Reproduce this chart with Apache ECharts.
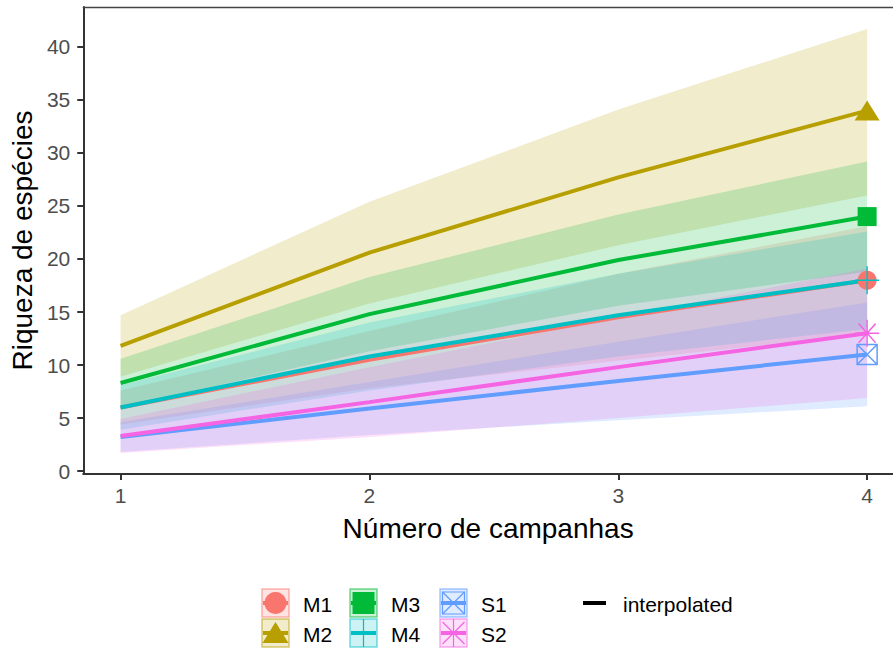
<!DOCTYPE html>
<html>
<head>
<meta charset="utf-8">
<script src="https://cdn.jsdelivr.net/npm/echarts@6/dist/echarts.min.js"></script>
<style>html,body{margin:0;padding:0;background:#fff;}#chart{width:893px;height:648px;}</style>
</head>
<body>
<div id="chart"></div>
<script>
// ---- data ----
const campaigns = [1, 2, 3, 4];
const xTicks = [1, 2, 3, 4];
const yTicks = [0, 5, 10, 15, 20, 25, 30, 35, 40];
const sampleNames = ['M1', 'M2', 'M3', 'M4', 'S1', 'S2'];
const sampleColors = ['#F8766D', '#B79F00', '#00BA38', '#00BFC4', '#619CFF', '#F564E3'];

const M1_obs = [6.0, 10.5, 14.5, 18.0];
const M1_lo  = [4.4, 7.8, 10.4, 12.9];
const M1_hi  = [7.6, 13.2, 18.6, 23.1];

const M2_obs = [11.8, 20.6, 27.7, 34.0];
const M2_lo  = [8.9, 15.8, 21.3, 26.0];
const M2_hi  = [14.7, 25.4, 34.1, 41.7];

const M3_obs = [8.3, 14.8, 19.9, 24.0];
const M3_lo  = [6.0, 11.3, 15.6, 18.8];
const M3_hi  = [10.6, 18.3, 24.2, 29.2];

const M4_obs = [6.0, 10.8, 14.7, 18.0];
const M4_lo  = [3.9, 7.6, 10.8, 13.4];
const M4_hi  = [8.1, 14.0, 18.6, 22.6];

const S1_obs = [3.2, 5.9, 8.5, 11.0];
const S1_lo  = [1.8, 3.4, 4.8, 6.1];
const S1_hi  = [4.6, 8.4, 12.2, 15.9];

const S2_obs = [3.3, 6.5, 9.8, 13.0];
const S2_lo  = [1.7, 3.2, 5.0, 6.9];
const S2_hi  = [4.9, 9.8, 14.5, 19.1];

const obsList = [M1_obs, M2_obs, M3_obs, M4_obs, S1_obs, S2_obs];
const loList = [M1_lo, M2_lo, M3_lo, M4_lo, S1_lo, S2_lo];
const hiList = [M1_hi, M2_hi, M3_hi, M4_hi, S1_hi, S2_hi];

// ---- helpers ----
function rgba(hex, a) {
  const r = parseInt(hex.slice(1, 3), 16), g = parseInt(hex.slice(3, 5), 16), b = parseInt(hex.slice(5, 7), 16);
  return 'rgba(' + r + ',' + g + ',' + b + ',' + a + ')';
}
const FONT = 'Liberation Sans, Arial, Helvetica, sans-serif';

const markerDefs = [
  { symbol: 'circle', size: 19, fill: true },
  { symbol: 'triangle', size: [25, 20], fill: true },
  { symbol: 'rect', size: 19, fill: true },
  { symbol: 'path://M10,0L10,20M0,10L20,10', size: [24, 28], fill: false },
  { symbol: 'path://M0,0L20,0L20,20L0,20ZM0,0L20,20M20,0L0,20', size: 20, fill: false },
  { symbol: 'path://M10,0L10,20M0,10L20,10M2.9,2.9L17.1,17.1M17.1,2.9L2.9,17.1', size: [24, 27], fill: false }
];

const series = [];
// confidence bands (one polygon per sample, through the axis scales)
sampleNames.forEach((nm, k) => {
  const lo = loList[k], hi = hiList[k];
  const fill = rgba(sampleColors[k], 0.2);
  series.push({
    type: 'custom', name: nm + ' band', silent: true, z: 1, clip: true,
    data: campaigns.map((x, i) => [x, lo[i], hi[i]]),
    encode: { x: 0, y: [1, 2] },
    renderItem: function (params, api) {
      if (params.dataIndex !== 0) return null;
      const pts = [];
      for (let i = 0; i < campaigns.length; i++) pts.push(api.coord([campaigns[i], hi[i]]));
      for (let i = campaigns.length - 1; i >= 0; i--) pts.push(api.coord([campaigns[i], lo[i]]));
      return { type: 'polygon', shape: { points: pts }, style: { fill: fill, stroke: null } };
    }
  });
});
// lines
sampleNames.forEach((nm, k) => {
  series.push({
    type: 'line', name: nm, silent: true,
    data: campaigns.map((x, i) => [x, obsList[k][i]]),
    symbol: 'none', lineStyle: { color: sampleColors[k], width: 4 }, z: 3
  });
});
// end markers
sampleNames.forEach((nm, k) => {
  const d = markerDefs[k];
  const last = campaigns.length - 1;
  series.push({
    type: 'scatter', name: nm + ' point', silent: true,
    data: [[campaigns[last], obsList[k][last]]],
    symbol: d.symbol, symbolSize: d.size,
    itemStyle: d.fill ? { color: sampleColors[k], opacity: 1 } :
      { color: 'rgba(0,0,0,0)', borderColor: sampleColors[k], borderWidth: 1.5, opacity: 1 },
    z: 4
  });
});

// ---- legend (graphic) ----
const graphic = [];
const colLeft = [262, 350, 440];
const rowTop = [589, 619];
const keyW = 27, keyH = 28;
sampleNames.forEach((nm, k) => {
  const col = Math.floor(k / 2), row = k % 2;
  const x0 = colLeft[col], y0 = rowTop[row];
  const cx = x0 + keyW / 2, cy = y0 + keyH / 2;
  const c = sampleColors[k];
  graphic.push({ type: 'rect', shape: { x: x0, y: y0, width: keyW, height: keyH },
    style: { fill: rgba(c, 0.2), stroke: rgba(c, 0.55), lineWidth: 1.5 } });
  graphic.push({ type: 'line', shape: { x1: x0 + 1, y1: cy, x2: x0 + keyW - 1, y2: cy },
    style: { stroke: c, lineWidth: 4 } });
  if (k === 0) {
    graphic.push({ type: 'circle', shape: { cx: cx, cy: cy, r: 11 }, style: { fill: c } });
  } else if (k === 1) {
    graphic.push({ type: 'polygon', shape: { points: [[cx, cy - 11], [cx + 13, cy + 10], [cx - 13, cy + 10]] }, style: { fill: c } });
  } else if (k === 2) {
    graphic.push({ type: 'rect', shape: { x: cx - 11, y: cy - 11, width: 22, height: 22 }, style: { fill: c } });
  } else if (k === 3) {
    graphic.push({ type: 'line', shape: { x1: cx, y1: y0, x2: cx, y2: y0 + keyH }, style: { stroke: c, lineWidth: 1.2 } });
  } else if (k === 4) {
    graphic.push({ type: 'rect', shape: { x: cx - 11, y: cy - 11, width: 22, height: 22 }, style: { fill: 'none', stroke: c, lineWidth: 1.2 } });
    graphic.push({ type: 'line', shape: { x1: cx - 11, y1: cy - 11, x2: cx + 11, y2: cy + 11 }, style: { stroke: c, lineWidth: 1.2 } });
    graphic.push({ type: 'line', shape: { x1: cx + 11, y1: cy - 11, x2: cx - 11, y2: cy + 11 }, style: { stroke: c, lineWidth: 1.2 } });
  } else if (k === 5) {
    graphic.push({ type: 'line', shape: { x1: cx, y1: y0, x2: cx, y2: y0 + keyH }, style: { stroke: c, lineWidth: 1.2 } });
    graphic.push({ type: 'line', shape: { x1: cx - 11, y1: cy - 11, x2: cx + 11, y2: cy + 11 }, style: { stroke: c, lineWidth: 1.2 } });
    graphic.push({ type: 'line', shape: { x1: cx + 11, y1: cy - 11, x2: cx - 11, y2: cy + 11 }, style: { stroke: c, lineWidth: 1.2 } });
  }
  graphic.push({ type: 'text', style: { text: nm, x: x0 + 41, y: cy + 1, fill: '#000', font: '21px ' + FONT, verticalAlign: 'middle' } });
});
graphic.push({ type: 'line', shape: { x1: 583, y1: 603, x2: 606, y2: 603 }, style: { stroke: '#000', lineWidth: 4 } });
graphic.push({ type: 'text', style: { text: 'interpolated', x: 623, y: 604, fill: '#000', font: '21px ' + FONT, verticalAlign: 'middle' } });

const option = {
  animation: false,
  backgroundColor: '#fff',
  textStyle: { fontFamily: FONT },
  grid: { left: 82, right: 0, top: 7, bottom: 174, show: false },
  xAxis: [{
    type: 'value', min: 0.85, max: 4.104,
    name: 'Número de campanhas', nameLocation: 'middle', nameGap: 40,
    nameTextStyle: { fontSize: 28, color: '#000', fontFamily: FONT },
    axisLine: { show: true, onZero: false, lineStyle: { color: '#333', width: 2 } },
    axisTick: { show: true, length: 6, lineStyle: { color: '#333', width: 2 }, customValues: xTicks },
    axisLabel: { customValues: xTicks, color: '#4D4D4D', fontSize: 21, margin: 11, fontFamily: FONT },
    splitLine: { show: false }
  }, {
    type: 'value', position: 'top', min: 0.85, max: 4.104,
    axisLine: { show: true, onZero: false, lineStyle: { color: '#444', width: 1.3 } },
    axisTick: { show: false }, axisLabel: { show: false }, splitLine: { show: false }
  }],
  yAxis: {
    type: 'value', min: -0.28, max: 43.77,
    name: 'Riqueza de espécies', nameLocation: 'middle', nameGap: 44, nameRotate: 90,
    nameTextStyle: { fontSize: 28, color: '#000', fontFamily: FONT },
    axisLine: { show: true, onZero: false, lineStyle: { color: '#333', width: 2 } },
    axisTick: { show: true, length: 6, lineStyle: { color: '#333', width: 2 }, customValues: yTicks },
    axisLabel: { customValues: yTicks, color: '#4D4D4D', fontSize: 21, margin: 13, fontFamily: FONT },
    splitLine: { show: false }
  },
  series: series,
  graphic: graphic
};

const chart = echarts.init(document.getElementById('chart'), null, { renderer: 'svg' });
chart.setOption(option);
</script>
</body>
</html>
